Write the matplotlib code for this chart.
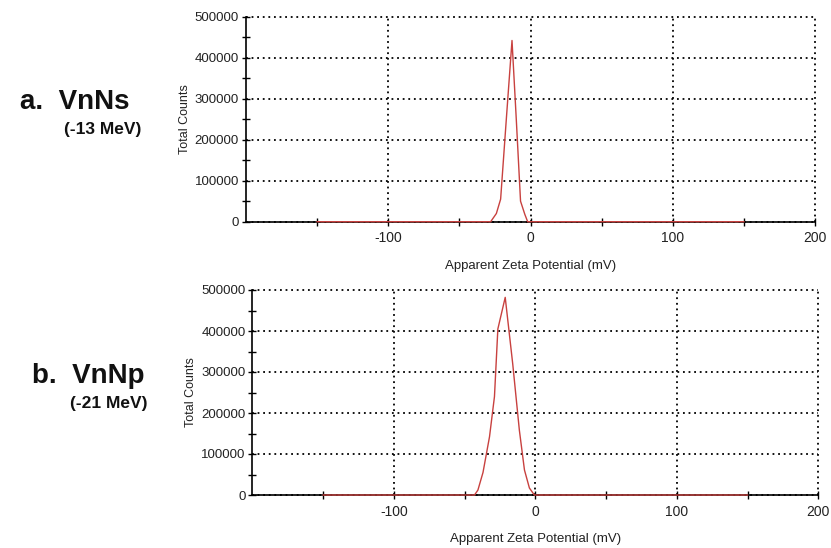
import matplotlib
matplotlib.use('Agg')
import matplotlib.pyplot as plt
from matplotlib.ticker import FixedLocator, FuncFormatter

plt.rcParams['font.family'] = ['Liberation Sans', 'DejaVu Sans']
plt.rcParams['axes.unicode_minus'] = False

# zeta potential distributions (mV vs total counts)
ns_mv = [-150, -28, -24, -21, -17, -13, -10, -7, -4, -2, 150]
ns_counts = [0, 0, 20000, 55000, 250000, 442000, 250000, 50000, 18000, 0, 0]

np_mv = [-150, -43, -40.6, -37, -32.4, -28.9, -26.5, -21.3, -16, -11.3, -7.7, -4.2, -0.7, 150]
np_counts = [0, 0, 12000, 55000, 142000, 240000, 405000, 482000, 320000, 158000, 61000, 17000, 0, 0]

panel_names = ['a.  VnNs', 'b.  VnNp']
panel_energy = ['(-13 MeV)', '(-21 MeV)']

x_major = [-100, 0, 100, 200]
x_minor = [-150, -50, 50, 150]
y_major = [0, 100000, 200000, 300000, 400000, 500000]
y_minor = [50000, 150000, 250000, 350000, 450000]

W, H = 831, 548
fig = plt.figure(figsize=(W / 100, H / 100), dpi=100)

# axes boxes in pixels: left, top, right, bottom
boxes = [(246, 16.7, 815, 221.7), (252.4, 290, 818.3, 495)]
series = [(ns_mv, ns_counts), (np_mv, np_counts)]
name_pos = [(129, 109), (145, 383)]
energy_pos = [(141, 134), (147, 408)]

line_col = '#c8413f'
txt_col = '#222222'

for i in range(2):
    l, t, r, b = boxes[i]
    ax = fig.add_axes([l / W, 1 - b / H, (r - l) / W, (b - t) / H])
    x, y = series[i]
    ax.plot(x, y, color=line_col, lw=1.0, zorder=5, clip_on=False)
    ax.set_xlim(-200, 200)
    ax.set_ylim(0, 500000)

    ax.xaxis.set_major_locator(FixedLocator(x_major))
    ax.xaxis.set_minor_locator(FixedLocator(x_minor))
    ax.yaxis.set_major_locator(FixedLocator(y_major))
    ax.yaxis.set_minor_locator(FixedLocator(y_minor))
    ax.yaxis.set_major_formatter(FuncFormatter(lambda v, p: '%d' % v))

    ax.tick_params(which='both', direction='inout', length=6, width=1,
                   colors='black', labelcolor=txt_col)
    ax.tick_params(axis='x', labelsize=10, pad=4)
    ax.tick_params(axis='y', labelsize=9.5, pad=2)

    for s in ['top', 'right']:
        ax.spines[s].set_visible(False)
    for s in ['left', 'bottom']:
        ax.spines[s].set_linewidth(1.2)
        ax.spines[s].set_color('black')

    ax.grid(True, which='major', color='black', lw=1.3,
            linestyle=(0, (1, 2.1)))
    ax.set_axisbelow(True)
    # keep the edge gridlines (500000 and 200) full width
    for gl in ax.get_xgridlines() + ax.get_ygridlines():
        gl.set_clip_on(False)

    ax.set_xlabel('Apparent Zeta Potential (mV)', fontsize=9.5,
                  color=txt_col, labelpad=10.5)
    ax.set_ylabel('Total Counts', fontsize=9, color=txt_col, labelpad=3)

    nx, ny = name_pos[i]
    fig.text(nx / W, 1 - ny / H, panel_names[i], fontsize=20,
             fontweight='bold', ha='right', va='baseline', color='#111111')
    ex, ey = energy_pos[i]
    fig.text(ex / W, 1 - ey / H, panel_energy[i], fontsize=12.5,
             fontweight='bold', ha='right', va='baseline', color='#111111')

fig.savefig('out.png', dpi=100, facecolor='white')
